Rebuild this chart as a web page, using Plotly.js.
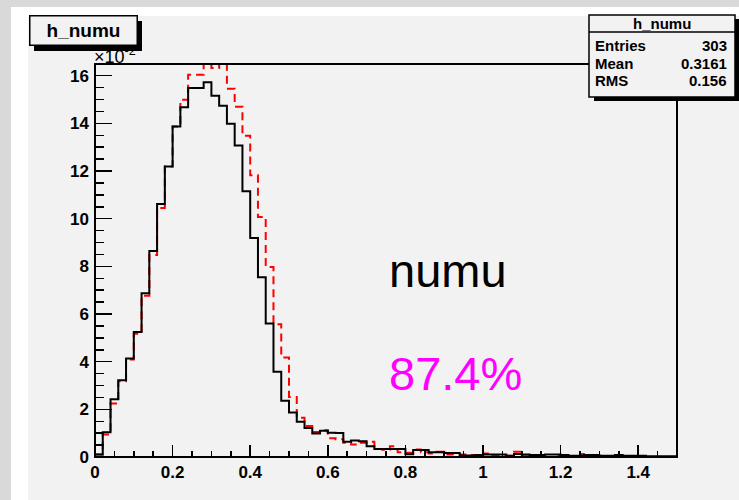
<!DOCTYPE html>
<html>
<head>
<meta charset="utf-8">
<script src="https://cdn.plot.ly/plotly-3.0.1.min.js"></script>
<style>
  html, body { margin: 0; padding: 0; background: #f2f2f2; }
  #chart { width: 739px; height: 500px; }
</style>
</head>
<body>
<div id="chart"></div>
<script>
// Histogram binning: 75 bins of width 0.02 on [0, 1.5]
const binLow = 0.0;
const binWidth = 0.02;

// h_numu contents (solid black), in units of 10^-2
const numuValues = [
  0.10, 1.04, 2.42, 3.22, 4.13, 5.25, 6.87, 8.64, 10.62, 12.19,
  13.87, 14.68, 15.48, 15.48, 15.72, 15.16, 14.74, 13.98, 13.07, 11.15,
  9.19, 7.54, 5.60, 3.58, 2.36, 1.87, 1.48, 1.22, 0.99, 1.10,
  1.02, 1.01, 0.64, 0.69, 0.66, 0.45, 0.34, 0.34, 0.34, 0.34,
  0.12, 0.29, 0.29, 0.20, 0.20, 0.17, 0.17, 0.06, 0.06, 0.08,
  0.10, 0.10, 0.10, 0.05, 0.13, 0.10, 0.08, 0.08, 0.10, 0.10,
  0.08, 0.05, 0.05, 0.08, 0.08, 0.05, 0.05, 0.08, 0.05, 0.05,
  0.05, 0.03, 0.03, 0.03, 0.03
];

// comparison histogram (dashed red), same binning
const compareValues = [
  0.10, 0.94, 2.24, 3.18, 4.09, 5.17, 6.77, 8.48, 10.45, 12.19,
  13.87, 14.99, 16.04, 16.04, 16.80, 16.32, 16.80, 15.45, 14.70, 13.48,
  11.82, 10.07, 7.97, 5.57, 4.18, 2.52, 1.65, 1.30, 1.05, 1.12,
  0.79, 0.75, 0.60, 0.52, 0.60, 0.64, 0.34, 0.30, 0.45, 0.20,
  0.18, 0.31, 0.20, 0.15, 0.22, 0.10, 0.12, 0.10, 0.08, 0.05,
  0.15, 0.05, 0.05, 0.05, 0.22, 0.03, 0.00, 0.03, 0.00, 0.05,
  0.00, 0.03, 0.13, 0.03, 0.00, 0.03, 0.00, 0.03, 0.00, 0.00,
  0.00, 0.00, 0.00, 0.00, 0.00
];

// axis tick labels
const xTickVals = [0, 0.2, 0.4, 0.6, 0.8, 1.0, 1.2, 1.4];
const xTickText = ['0', '0.2', '0.4', '0.6', '0.8', '1', '1.2', '1.4'];
const yTickVals = [0, 2, 4, 6, 8, 10, 12, 14, 16];
const yTickText = ['0', '2', '4', '6', '8', '10', '12', '14', '16'];

// statistics box rows
const statsTitle = 'h_numu';
const statsLabels = ['Entries', 'Mean', 'RMS'];
const statsValues = ['303', '0.3161', '0.156'];

const histTitle = 'h_numu';
const labelName = 'numu';
const labelFraction = '87.4%';

// step outline for a binned histogram
function stepXY(values) {
  const xs = [], ys = [];
  for (let i = 0; i < values.length; i++) {
    xs.push(binLow + i * binWidth);
    ys.push(values[i]);
  }
  xs.push(binLow + values.length * binWidth);
  ys.push(values[values.length - 1]);
  return { xs, ys };
}

const numu = stepXY(numuValues);
const comp = stepXY(compareValues);

const W = 739, H = 500;
const M = { l: 95, r: 62, t: 64, b: 43 };
const PW = W - M.l - M.r, PH = H - M.t - M.b;
// pixel -> paper coordinates
const px = x => (x - M.l) / PW;
const py = y => 1 - (y - M.t) / PH;

const FONT = 'Liberation Sans, Arial, Helvetica, sans-serif';

const traces = [
  {
    x: comp.xs, y: comp.ys, type: 'scatter', mode: 'lines',
    line: { shape: 'hv', color: '#ff0000', width: 2, dash: '8px,5px' },
    hoverinfo: 'skip', showlegend: false
  },
  {
    x: numu.xs, y: numu.ys, type: 'scatter', mode: 'lines',
    line: { shape: 'hv', color: '#000000', width: 2 },
    hoverinfo: 'skip', showlegend: false
  }
];

const shapes = [
  // canvas borders
  { type: 'rect', xref: 'paper', yref: 'paper', x0: px(0), x1: px(739), y0: py(0), y1: py(500),
    fillcolor: '#d9d9d9', line: { width: 0 }, layer: 'below' },
  { type: 'rect', xref: 'paper', yref: 'paper', x0: px(11), x1: px(739), y0: py(7), y1: py(500),
    fillcolor: '#ffffff', line: { width: 0 }, layer: 'below' },
  { type: 'rect', xref: 'paper', yref: 'paper', x0: px(28), x1: px(739), y0: py(16), y1: py(500),
    fillcolor: '#f2f2f2', line: { width: 0 }, layer: 'below' },
  // frame
  { type: 'rect', xref: 'paper', yref: 'paper', x0: 0, x1: 1, y0: 0, y1: 1,
    line: { color: '#000000', width: 2 }, layer: 'above' },
  // stats box with shadow
  { type: 'rect', xref: 'paper', yref: 'paper', x0: px(594), x1: px(739), y0: py(19), y1: py(101),
    fillcolor: '#000000', line: { width: 0 }, layer: 'above' },
  { type: 'rect', xref: 'paper', yref: 'paper', x0: px(589), x1: px(735), y0: py(15), y1: py(97),
    fillcolor: '#f2f2f2', line: { color: '#000000', width: 1.5 }, layer: 'above' },
  { type: 'line', xref: 'paper', yref: 'paper', x0: px(589), x1: px(735), y0: py(32), y1: py(32),
    line: { color: '#000000', width: 1.5 }, layer: 'above' }
];

const annotations = [
  // axis multiplier, partly covered by the title box
  { text: '×10<sup>-2</sup>', xref: 'paper', yref: 'paper', x: px(92), y: py(55),
    xanchor: 'left', yanchor: 'middle', showarrow: false,
    font: { family: FONT, size: 18, color: '#000000' } },
  // title box shadow
  { text: ' ', xref: 'paper', yref: 'paper', x: px(88), y: py(36),
    xanchor: 'center', yanchor: 'middle', showarrow: false,
    width: 108, height: 30, borderpad: 0, borderwidth: 0, bgcolor: '#000000',
    font: { family: FONT, size: 10, color: '#000000' } },
  // title box
  { text: '<b>' + histTitle + '</b>', xref: 'paper', yref: 'paper', x: px(83), y: py(31),
    xanchor: 'center', yanchor: 'middle', showarrow: false,
    width: 106, height: 28, borderpad: 0, borderwidth: 1.5, bordercolor: '#000000', bgcolor: '#f2f2f2',
    font: { family: FONT, size: 19, color: '#000000' } },
  { text: '<b>' + statsTitle + '</b>', xref: 'paper', yref: 'paper', x: px(662), y: py(24),
    xanchor: 'center', yanchor: 'middle', showarrow: false,
    font: { family: FONT, size: 15, color: '#000000' } },
  { text: labelName, xref: 'paper', yref: 'paper', x: px(387), y: py(270),
    xanchor: 'left', yanchor: 'middle', showarrow: false,
    font: { family: FONT, size: 47, color: '#000000' } },
  { text: labelFraction, xref: 'paper', yref: 'paper', x: px(387), y: py(373),
    xanchor: 'left', yanchor: 'middle', showarrow: false,
    font: { family: FONT, size: 47, color: '#ff00ff' } }
];

const rowY = [46, 63, 80];
statsLabels.forEach((lab, i) => {
  annotations.push({ text: '<b>' + lab + '</b>', xref: 'paper', yref: 'paper', x: px(593), y: py(rowY[i]),
    xanchor: 'left', yanchor: 'middle', showarrow: false,
    font: { family: FONT, size: 15, color: '#000000' } });
  annotations.push({ text: '<b>' + statsValues[i] + '</b>', xref: 'paper', yref: 'paper', x: px(729), y: py(rowY[i]),
    xanchor: 'right', yanchor: 'middle', showarrow: false,
    font: { family: FONT, size: 15, color: '#000000' } });
});

const layout = {
  width: W, height: H,
  margin: M,
  paper_bgcolor: '#f2f2f2',
  plot_bgcolor: '#f2f2f2',
  showlegend: false,
  xaxis: {
    range: [0, 1.5], showgrid: false, zeroline: false,
    tickmode: 'array', tickvals: xTickVals, ticktext: xTickText,
    ticks: 'inside', ticklen: 12, tickwidth: 1.5, tickcolor: '#000000',
    minor: { dtick: 0.05, ticks: 'inside', ticklen: 6, tickwidth: 1.5, tickcolor: '#000000' },
    tickfont: { family: FONT, size: 17, weight: 'bold', color: '#000000' },
    ticklabelstandoff: 3,
    showline: false
  },
  yaxis: {
    range: [0, 16.49], showgrid: false, zeroline: false,
    tickmode: 'array', tickvals: yTickVals, ticktext: yTickText,
    ticks: 'inside', ticklen: 17, tickwidth: 1.5, tickcolor: '#000000',
    minor: { dtick: 0.5, ticks: 'inside', ticklen: 8.5, tickwidth: 1.5, tickcolor: '#000000' },
    tickfont: { family: FONT, size: 17, weight: 'bold', color: '#000000' },
    ticklabelstandoff: 5,
    showline: false
  },
  shapes: shapes,
  annotations: annotations
};

Plotly.newPlot('chart', traces, layout, { displayModeBar: false, staticPlot: true });
</script>
</body>
</html>
